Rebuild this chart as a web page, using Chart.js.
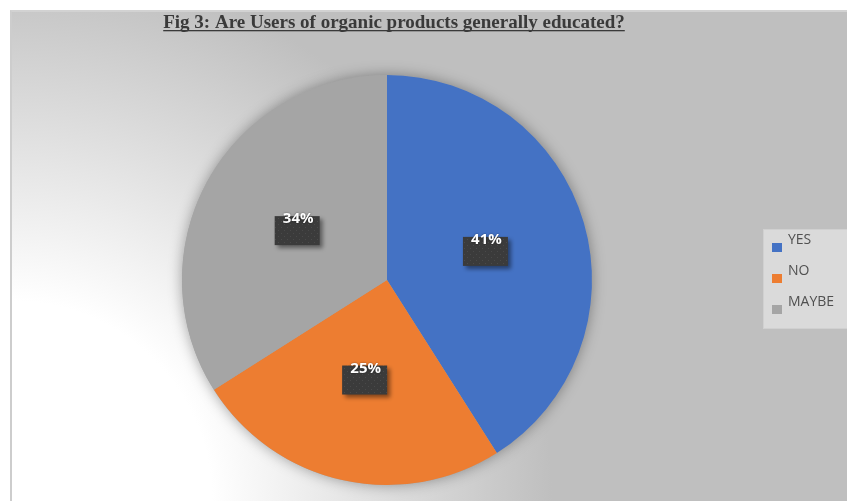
<!DOCTYPE html>
<html>
<head>
<meta charset="utf-8">
<script src="https://cdn.jsdelivr.net/npm/chart.js@4/dist/chart.umd.min.js"></script>
<style>
  html, body { margin: 0; padding: 0; background: #ffffff; }
  body { width: 847px; height: 501px; position: relative; overflow: hidden; }
  #frame {
    position: absolute; left: 10px; top: 10px; width: 837px; height: 491px;
    box-sizing: border-box;
    border-left: 2px solid #cdcdcd; border-top: 2px solid #d2d2d2;
    background: radial-gradient(circle at 0% 100%, #ffffff 0px, #ffffff 200px, #bfbfbf 540px);
  }
  #grafico { position: absolute; left: 10px; top: 10px; }
</style>
</head>
<body>
<div id="frame"></div>
<canvas id="grafico" width="837" height="491"></canvas>
<script>
var titulo = "Fig 3: Are Users of organic products generally educated?";
var respostas = ["YES", "NO", "MAYBE"];
var percentuais = [41, 25, 34];
var cores = ["#4472C4", "#ED7D31", "#A5A5A5"];

// dark dotted fill for the value boxes
function criarTextura() {
  var c = document.createElement("canvas");
  c.width = 6;
  c.height = 6;
  var g = c.getContext("2d");
  g.fillStyle = "#3b3b3b";
  g.fillRect(0, 0, 6, 6);
  g.fillStyle = "#4a4a4a";
  g.fillRect(1, 1, 1, 1);
  g.fillRect(4, 4, 1, 1);
  return g.createPattern(c, "repeat");
}
var textura = criarTextura();

// title with underline
const pluginTitulo = {
  id: "pluginTitulo",
  afterDraw(chart) {
    var ctx = chart.ctx;
    ctx.save();
    ctx.font = "bold 19px 'Liberation Serif', 'Times New Roman', serif";
    ctx.fillStyle = "#3a3a3a";
    ctx.textAlign = "center";
    ctx.textBaseline = "alphabetic";
    var cx = 384;
    ctx.fillText(titulo, cx, 18);
    var w = ctx.measureText(titulo).width;
    ctx.fillRect(cx - w / 2, 20, w, 1.3);
    ctx.restore();
  },
};

// soft shadow behind the whole pie
const pluginSombra = {
  id: "pluginSombra",
  beforeDatasetsDraw(chart) {
    var arco = chart.getDatasetMeta(0).data[0];
    if (!arco) return;
    var ctx = chart.ctx;
    ctx.save();
    ctx.shadowColor = "rgba(0,0,0,0.35)";
    ctx.shadowBlur = 14;
    ctx.fillStyle = "#a5a5a5";
    ctx.beginPath();
    ctx.arc(arco.x, arco.y, arco.outerRadius, 0, Math.PI * 2);
    ctx.fill();
    ctx.restore();
  },
};

// percentage labels on dark boxes
const pluginRotulos = {
  id: "pluginRotulos",
  afterDatasetsDraw(chart) {
    var ctx = chart.ctx;
    var meta = chart.getDatasetMeta(0);
    meta.data.forEach(function (arco, i) {
      var p = arco.tooltipPosition();
      var bw = 45, bh = 29;
      var x0 = p.x - bw / 2, y0 = p.y - bh / 2;
      ctx.save();
      ctx.shadowColor = "rgba(0,0,0,0.45)";
      ctx.shadowBlur = 4;
      ctx.shadowOffsetX = 3;
      ctx.shadowOffsetY = 3;
      ctx.fillStyle = textura;
      ctx.fillRect(x0, y0, bw, bh);
      ctx.restore();

      ctx.save();
      ctx.font = "bold 15px 'Open Sans', sans-serif";
      ctx.fillStyle = "#ffffff";
      ctx.textAlign = "center";
      ctx.textBaseline = "middle";
      ctx.shadowColor = "rgba(0,0,0,0.5)";
      ctx.shadowBlur = 2;
      ctx.fillText(chart.data.datasets[0].data[i] + "%", p.x + 1, y0 + 3);
      ctx.restore();
    });
  },
};

// legend box on the right
const pluginLegenda = {
  id: "pluginLegenda",
  afterDraw(chart) {
    var ctx = chart.ctx;
    ctx.save();
    ctx.fillStyle = "#dadada";
    ctx.fillRect(753, 219, 84, 99);
    ctx.strokeStyle = "#d0d0d0";
    ctx.strokeRect(753.5, 219.5, 84, 99);
    ctx.font = "14px 'Open Sans', sans-serif";
    ctx.textBaseline = "middle";
    ctx.textAlign = "left";
    chart.data.labels.forEach(function (rotulo, i) {
      var y = 230 + i * 31;
      ctx.fillStyle = chart.data.datasets[0].backgroundColor[i];
      ctx.fillRect(762, y + 3, 10, 9);
      ctx.fillStyle = "#505050";
      ctx.fillText(rotulo, 778, y);
    });
    ctx.restore();
  },
};

var grafico = new Chart(document.getElementById("grafico"), {
  type: "pie",
  data: {
    labels: respostas,
    datasets: [
      {
        label: "Respostas",
        data: percentuais,
        backgroundColor: cores,
        borderWidth: 0,
        hoverOffset: 0,
      },
    ],
  },
  options: {
    responsive: false,
    animation: false,
    layout: { padding: { top: 65, bottom: 16, left: 0, right: 83 } },
    plugins: {
      legend: { display: false },
      tooltip: { enabled: false },
      title: { display: false },
    },
  },
  plugins: [pluginSombra, pluginRotulos, pluginLegenda, pluginTitulo],
});
</script>
</body>
</html>
